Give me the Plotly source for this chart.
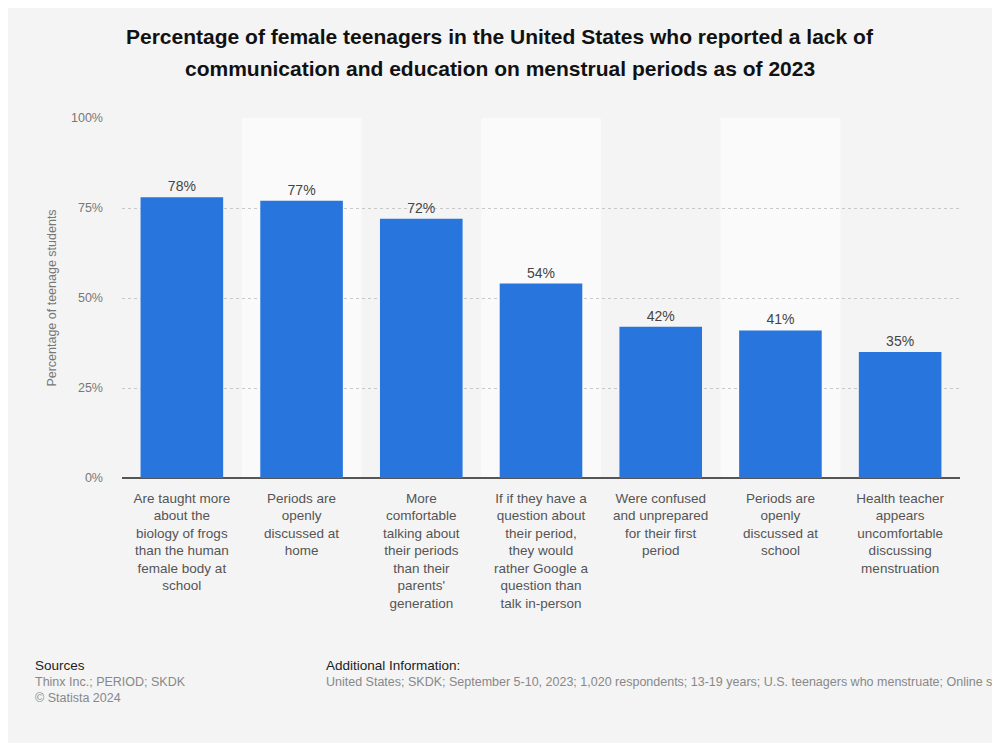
import plotly.graph_objects as go

categories = [
    "Are taught more<br>about the<br>biology of frogs<br>than the human<br>female body at<br>school",
    "Periods are<br>openly<br>discussed at<br>home",
    "More<br>comfortable<br>talking about<br>their periods<br>than their<br>parents'<br>generation",
    "If if they have a<br>question about<br>their period,<br>they would<br>rather Google a<br>question than<br>talk in-person",
    "Were confused<br>and unprepared<br>for their first<br>period",
    "Periods are<br>openly<br>discussed at<br>school",
    "Health teacher<br>appears<br>uncomfortable<br>discussing<br>menstruation",
]
values = [78, 77, 72, 54, 42, 41, 35]
tick_vals = [0, 25, 50, 75, 100]
tick_text = ["0%", "25%", "50%", "75%", "100%"]
title_lines = [
    "Percentage of female teenagers in the United States who reported a lack of",
    "communication and education on menstrual periods as of 2023",
]

FONT = "Liberation Sans, Arial, sans-serif"
BG = "#f4f4f4"
W, H = 1000, 743
L, R, T, B = 114, 48, 110, 273

fig = go.Figure()
fig.add_trace(go.Bar(
    x=list(range(len(categories))),
    y=values,
    marker=dict(color="#2876dd", line=dict(width=0)),
    text=[f"{v}%" for v in values],
    textposition="outside",
    textfont=dict(size=14, color="#444444", family=FONT),
    cliponaxis=False,
    hoverinfo="skip",
))

shapes = []
for i in range(len(categories)):
    if i % 2 == 1:
        shapes.append(dict(type="rect", xref="x", yref="paper", x0=i - 0.5, x1=i + 0.5,
                           y0=0, y1=1, fillcolor="#fafafa", line=dict(width=0), layer="below"))

fig.update_layout(
    width=W, height=H,
    paper_bgcolor=BG, plot_bgcolor=BG,
    margin=dict(l=L, r=R, t=T, b=B),
    bargap=0.31,
    showlegend=False,
    shapes=shapes,
    font=dict(family=FONT),
    xaxis=dict(
        tickmode="array",
        tickvals=list(range(len(categories))),
        ticktext=categories,
        range=[-0.5, len(categories) - 0.5],
        tickangle=0,
        tickfont=dict(size=13.5, color="#555555", family=FONT),
        showgrid=False,
        showline=False,
        ticks="",
        ticklabelstandoff=10,
    ),
    yaxis=dict(
        range=[0, 100],
        tickmode="array",
        tickvals=tick_vals,
        ticktext=tick_text,
        tickfont=dict(size=12.5, color="#777777", family=FONT),
        showgrid=True,
        gridcolor="#c8c8c8",
        griddash="dot",
        gridwidth=1,
        zeroline=True,
        zerolinecolor="#555555",
        zerolinewidth=2,
        ticks="",
        ticklabelstandoff=18,
        title=dict(text="Percentage of teenage students", font=dict(size=12.5, color="#777777", family=FONT), standoff=11),
    ),
)


def px_x(x):
    return (x - L) / (W - L - R)


def px_y(y):
    return 1 - (y - T) / (H - T - B)


for txt, yy in zip(title_lines, [29, 60]):
    fig.add_annotation(
        text=f"<b>{txt}</b>", xref="paper", yref="paper",
        x=px_x(492), y=px_y(yy), xanchor="center", yanchor="middle", showarrow=False,
        font=dict(size=21, color="#111111", family=FONT),
    )

annotations = [
    dict(text="Sources", x=25, y=657, color="#222222", size=13.5),
    dict(text="Thinx Inc.; PERIOD; SKDK", x=25, y=674, color="#888888", size=12.5),
    dict(text="© Statista 2024", x=25, y=690, color="#888888", size=12.5),
    dict(text="Additional Information:", x=316, y=657, color="#222222", size=13.5),
    dict(text="United States; SKDK; September 5-10, 2023; 1,020 respondents; 13-19 years; U.S. teenagers who menstruate; Online survey",
         x=316, y=674, color="#888888", size=12.5),
]
for a in annotations:
    fig.add_annotation(
        text=a["text"], xref="paper", yref="paper",
        x=px_x(a["x"]), y=px_y(a["y"]),
        xanchor="left", yanchor="middle", showarrow=False,
        font=dict(size=a["size"], color=a["color"], family=FONT),
    )

fig.write_html("out.html")
